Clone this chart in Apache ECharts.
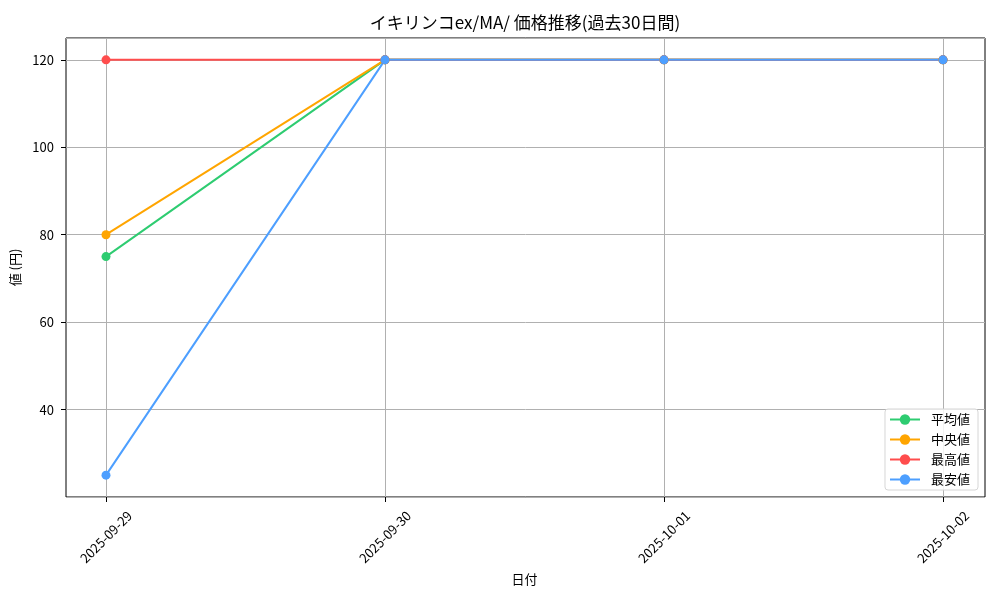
<!DOCTYPE html>
<html lang="ja">
<head>
    <meta charset="UTF-8">
    <title>価格推移</title>
    <script src="https://cdn.jsdelivr.net/npm/echarts@6/dist/echarts.min.js"></script>
</head>
<body style="margin:0">
    <div id="main" style="width: 1000px;height:600px;"></div>
    <script type="text/javascript">
        // データ
        var dates = ['2025-09-29', '2025-09-30', '2025-10-01', '2025-10-02'];
        var avgValues = [75, 120, 120, 120];     // 平均値
        var medianValues = [80, 120, 120, 120];  // 中央値
        var maxValues = [120, 120, 120, 120];    // 最高値
        var minValues = [25, 120, 120, 120];     // 最安値
        var yTicks = [40, 60, 80, 100, 120];

        var FONT = '"Noto Sans CJK JP", sans-serif';
        var myChart = echarts.init(document.getElementById('main'));

        function lineSeries(name, data, color) {
            return {
                name: name,
                type: 'line',
                xAxisIndex: 1,
                yAxisIndex: 1,
                data: data,
                symbol: 'circle',
                symbolSize: 9,
                color: color,
                lineStyle: {color: color, width: 2},
                itemStyle: {color: color},
                emphasis: {disabled: true},
                animation: false
            };
        }

        var option = {
            backgroundColor: '#fff',
            textStyle: {fontFamily: FONT, color: '#000'},
            // タイトル（プロット領域の中央）
            graphic: [{
                type: 'text',
                x: 525,
                y: 23,
                style: {
                    text: 'イキリンコex/MA/ 価格推移(過去30日間)',
                    font: '17px ' + FONT,
                    fill: '#000',
                    align: 'center',
                    verticalAlign: 'middle'
                }
            }],
            legend: {
                orient: 'vertical',
                right: 22,
                bottom: 110,
                backgroundColor: 'rgba(255,255,255,0.85)',
                borderColor: '#d6d6d6',
                borderWidth: 1,
                borderRadius: 3,
                padding: [4, 8, 4, 4],
                itemWidth: 30,
                itemHeight: 13,
                itemGap: 7,
                textStyle: {fontFamily: FONT, fontSize: 13, color: '#000', padding: [0, 0, 0, 6]},
                data: ['平均値', '中央値', '最高値', '最安値']
            },
            // grid 0 は枠と横の目盛り, grid 1 はデータ
            grid: [
                {left: 66, right: 15, top: 38, bottom: 103, show: true, borderColor: '#000', borderWidth: 1, containLabel: false},
                {left: 106, right: 57, top: 38, bottom: 103, containLabel: false}
            ],
            xAxis: [
                {gridIndex: 0, type: 'value', min: 0, max: 1, show: false},
                {
                    gridIndex: 1,
                    type: 'category',
                    boundaryGap: false,
                    data: dates,
                    name: '日付',
                    nameLocation: 'middle',
                    nameGap: 73,
                    nameTextStyle: {fontSize: 13, color: '#000'},
                    axisLine: {show: false},
                    axisTick: {show: true, alignWithLabel: true, length: 5, lineStyle: {color: '#000'}},
                    axisLabel: {
                        rotate: 45,
                        align: 'center',
                        verticalAlign: 'middle',
                        margin: 40,
                        fontSize: 13,
                        color: '#000'
                    },
                    splitLine: {show: true, lineStyle: {color: '#b0b0b0', width: 1}}
                }
            ],
            yAxis: [
                {
                    gridIndex: 0,
                    type: 'value',
                    min: 20,
                    max: 125,
                    interval: 20,
                    name: '値 (円)',
                    nameLocation: 'middle',
                    nameGap: 39,
                    nameTextStyle: {fontSize: 13, color: '#000'},
                    axisLine: {show: false},
                    axisTick: {show: true, length: 5, lineStyle: {color: '#000'}},
                    axisLabel: {
                        showMinLabel: false,
                        showMaxLabel: false,
                        margin: 12,
                        fontSize: 13,
                        color: '#000',
                        formatter: function (v) { return yTicks.indexOf(v) >= 0 ? String(v) : ''; }
                    },
                    splitLine: {show: true, lineStyle: {color: '#b0b0b0', width: 1}}
                },
                {gridIndex: 1, type: 'value', min: 20, max: 125, show: false}
            ],
            series: [
                lineSeries('平均値', avgValues, '#2ecc71'),
                lineSeries('中央値', medianValues, '#ffa500'),
                lineSeries('最高値', maxValues, '#ff4d4d'),
                lineSeries('最安値', minValues, '#4d9fff')
            ]
        };

        myChart.setOption(option);
    </script>
</body>
</html>
